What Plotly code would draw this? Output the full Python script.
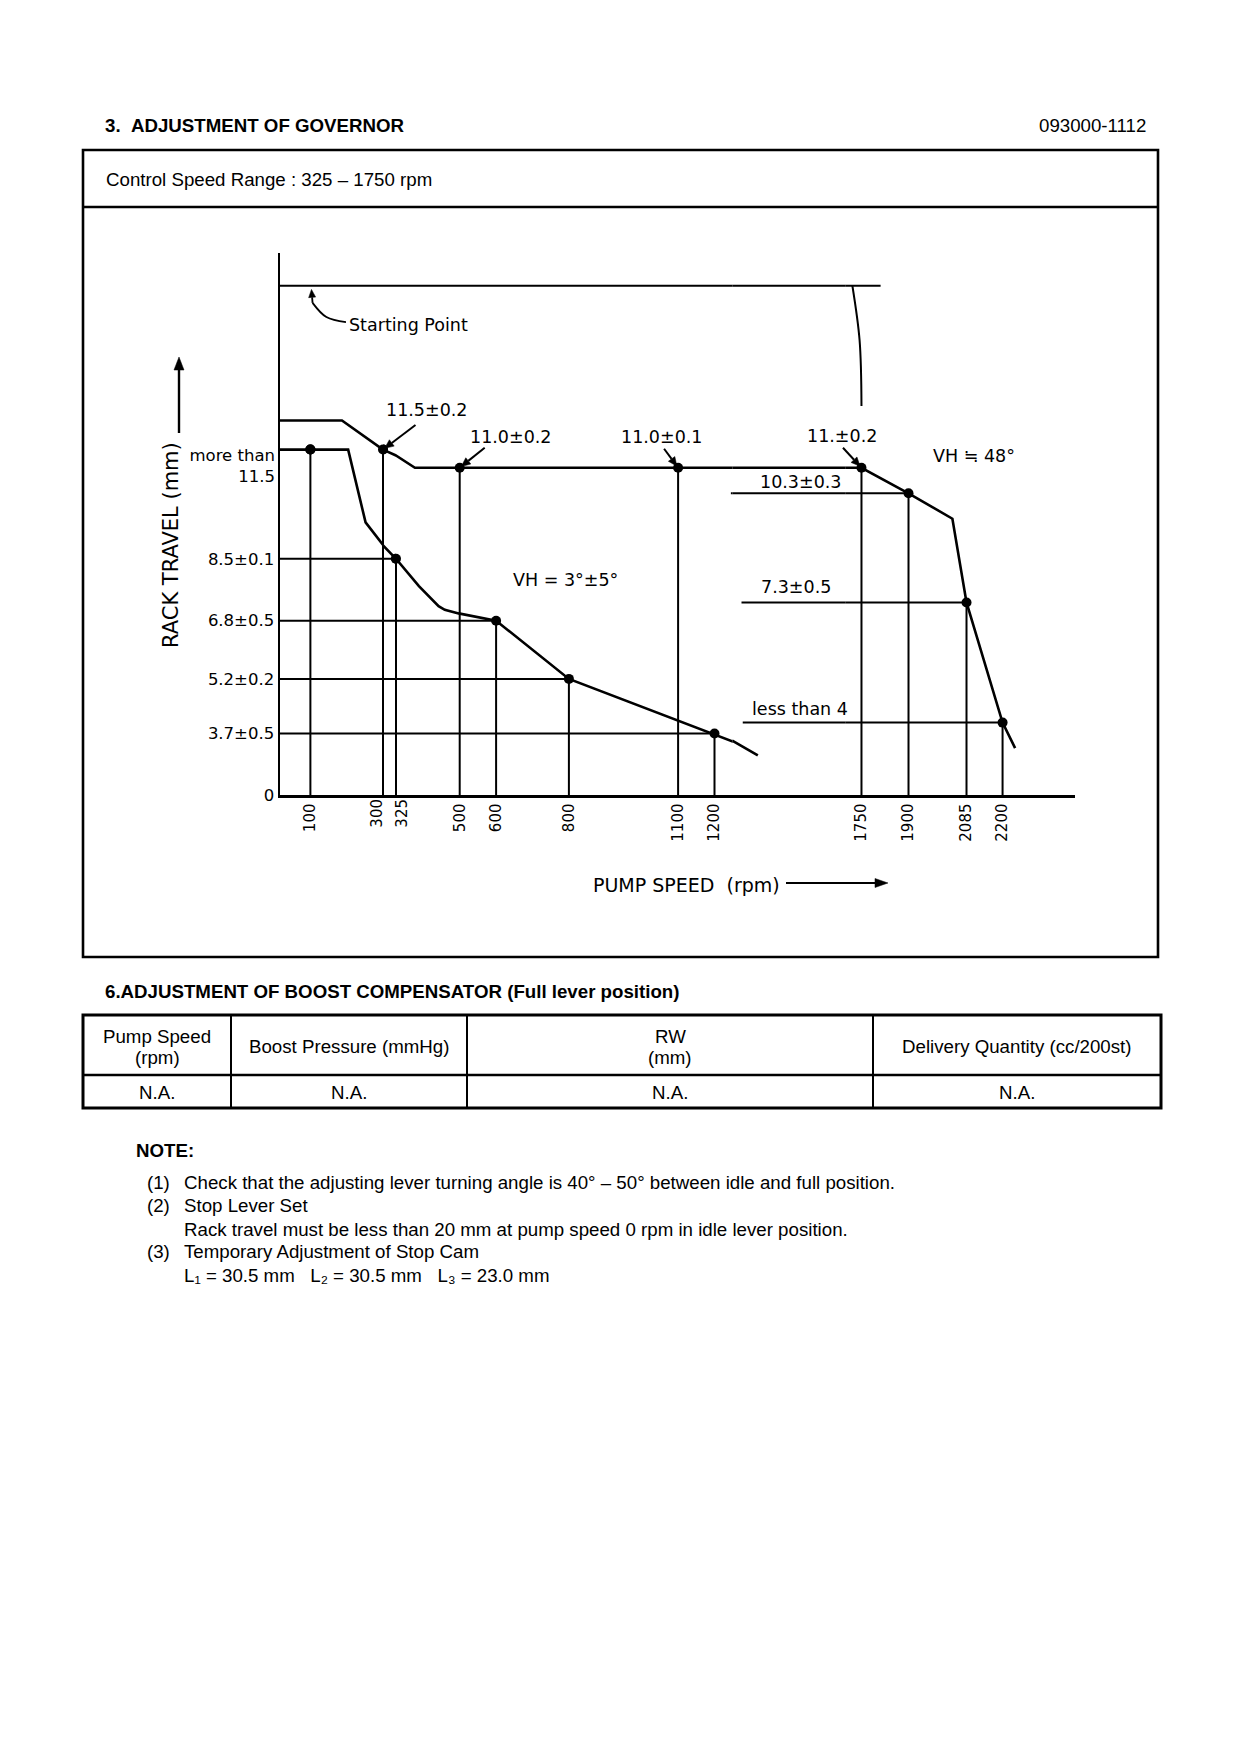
import math
import plotly.graph_objects as go

# ---------------- data ----------------
speed_ticks = [100, 300, 325, 500, 600, 800, 1100, 1200, 1750, 1900, 2085, 2200]

# full-load (upper) curve: pump speed rpm / rack travel mm
full_rpm = [16, 187, 300, 377, 1750, 1900, 2040, 2085, 2200, 2240]
full_mm = [12.3, 12.3, 11.5, 11.0, 11.0, 10.3, 9.6, 7.3, 4.0, 3.3]

# idle (lower) curve
idle_rpm = [16, 204, 252, 296, 325, 388, 442, 459, 497, 600, 800, 1200, 1350]
idle_mm = [11.5, 11.5, 9.5, 8.93, 8.5, 7.75, 7.2, 7.1, 7.0, 6.8, 5.2, 3.7, 3.1]

# starting line and governor cut-off near top
start_rpm = [16, 1811]
start_mm = [16.0, 16.0]
gov_rpm = [1721, 1744, 1750]
gov_mm = [16.0, 14.5, 12.7]

# "Starting Point" leader
leader_rpm = [198, 144, 106]
leader_mm = [15.0, 15.14, 15.53]
leader_tip = (103, 15.9)

# measuring points
point_rpm = [100, 300, 325, 500, 600, 800, 1100, 1200, 1750, 1900, 2085, 2200]
point_mm = [11.5, 11.5, 8.5, 11.0, 6.8, 5.2, 11.0, 3.7, 11.0, 10.3, 7.3, 4.0]

guide_left_rpm = [325, 600, 800, 1200]
guide_right_rpm = [1900, 2085, 2200]
guide_right_from = [1245, 1285, 1290]

ytick_mm = [8.5, 6.8, 5.2, 3.7]
ytick_text = ["8.5±0.1", "6.8±0.5", "5.2±0.2", "3.7±0.5"]
top_tick_mm = 11.5
top_tick_lines = ["more than", "11.5"]

callout_text = ["11.5±0.2", "11.0±0.2", "11.0±0.1", "11.±0.2"]
callout_rpm = [300, 500, 1100, 1750]
callout_mm = [11.5, 11.0, 11.0, 11.0]

right_labels = ["10.3±0.3", "7.3±0.5", "less than 4"]
right_label_rpm = [1900, 2085, 2200]
right_label_mm = [10.3, 7.3, 4.0]

boost_headers = [["Pump Speed", "(rpm)"], ["Boost Pressure (mmHg)"], ["RW", "(mm)"],
                 ["Delivery Quantity (cc/200st)"]]
boost_values = ["N.A.", "N.A.", "N.A.", "N.A."]

note_nums = ["(1)", "(2)", "", "(3)", ""]
note_lines = [
    "Check that the adjusting lever turning angle is 40° – 50° between idle and full position.",
    "Stop Lever Set",
    "Rack travel must be less than 20 mm at pump speed 0 rpm in idle lever position.",
    "Temporary Adjustment of Stop Cam",
    "L₁ = 30.5 mm\u00a0\u00a0\u00a0L₂ = 30.5 mm\u00a0\u00a0\u00a0L₃ = 23.0 mm",
]

# ---------------- geometry helpers ----------------
OFF = 8
W, H = 1240 - 2 * OFF, 1720


def PX(x):
    return (x - OFF) / W


def PY(y):
    return 1 - (y - OFF) / H


PAGE_FONT = "Liberation Sans"
CHART_FONT = "DejaVu Sans"
BLACK = "#000000"

# piecewise (schematic) scales: (axis, rpm0, rpm1, px0, px1)
XSEG = [("x", 16.3, 300, 280, 383), ("x2", 300, 325, 383, 396), ("x3", 325, 1250, 396, 732.7),
        ("x4", 1250, 1700, 732.7, 845.8), ("x5", 1700, 2431, 845.8, 1075)]
YSEG = [("y", 0, 3, 795, 759), ("y2", 3, 16.9, 759, 253)]

# the two close ticks (300 / 325) get their labels spread apart, as in the drawing
SPREAD = [("x6", 300, -6), ("x7", 325, 6)]
# the two-line "more than / 11.5" label, one overlay axis per line
TOPLAB = [("y3", 6), ("y4", 27)]

fig = go.Figure()
shapes = []


def add_all(xs, ys, **kw):
    for xa, *_ in XSEG:
        for ya, *_ in YSEG:
            fig.add_trace(go.Scatter(x=xs, y=ys, xaxis=xa, yaxis=ya, showlegend=False,
                                     hoverinfo="skip", **kw))


def xref_for(r):
    for name, r0, r1, *_ in XSEG:
        if r0 <= r <= r1:
            return name
    return XSEG[-1][0]


def yref_for(m):
    return "y" if m < YSEG[1][1] else "y2"


def seg_px(v, segs):
    for _, v0, v1, p0, p1 in segs:
        if v0 <= v <= v1:
            return p0 + (v - v0) * (p1 - p0) / (v1 - v0)
    _, v0, v1, p0, p1 = segs[-1]
    return p0 + (v - v0) * (p1 - p0) / (v1 - v0)


def data_px(r, m):
    return seg_px(r, XSEG), seg_px(m, YSEG)


def arrow(tip, tail, head_len=9, head_hw=4, width=2, back=0):
    tx, ty = tip
    sx, sy = tail
    d = math.hypot(tx - sx, ty - sy)
    ux, uy = (tx - sx) / d, (ty - sy) / d
    tx, ty = tx - back * ux, ty - back * uy
    bx, by = tx - head_len * ux, ty - head_len * uy
    nx, ny = -uy, ux
    shapes.append(dict(type="line", xref="paper", yref="paper", x0=PX(sx), y0=PY(sy), x1=PX(bx),
                       y1=PY(by), line=dict(color=BLACK, width=width)))
    p = "M {:.5f},{:.5f} L {:.5f},{:.5f} L {:.5f},{:.5f} Z".format(
        PX(tx), PY(ty), PX(bx + nx * head_hw), PY(by + ny * head_hw),
        PX(bx - nx * head_hw), PY(by - ny * head_hw))
    shapes.append(dict(type="path", xref="paper", yref="paper", path=p, fillcolor=BLACK,
                       line=dict(color=BLACK, width=0.5)))


# curves
add_all(full_rpm, full_mm, mode="lines", line=dict(color=BLACK, width=2.6))
add_all(idle_rpm, idle_mm, mode="lines", line=dict(color=BLACK, width=2.6))
add_all(start_rpm, start_mm, mode="lines", line=dict(color=BLACK, width=2.2))
add_all(gov_rpm, gov_mm, mode="lines", line=dict(color=BLACK, width=2.0, shape="spline"))
add_all(leader_rpm, leader_mm, mode="lines", line=dict(color=BLACK, width=1.8, shape="spline"))

# drop lines
dx, dy = [], []
for r, m in zip(point_rpm, point_mm):
    dx += [r, r, None]
    dy += [0, m, None]
add_all(dx, dy, mode="lines", line=dict(color=BLACK, width=2.0))

# horizontal guides
gx, gy = [], []
for r in guide_left_rpm:
    m = point_mm[point_rpm.index(r)]
    gx += [XSEG[0][1], r, None]
    gy += [m, m, None]
for r, f in zip(guide_right_rpm, guide_right_from):
    m = point_mm[point_rpm.index(r)]
    gx += [f, r, None]
    gy += [m, m, None]
add_all(gx, gy, mode="lines", line=dict(color=BLACK, width=2.0))

# markers
add_all(point_rpm, point_mm, mode="markers", marker=dict(color=BLACK, size=10))

# carriers for the overlay tick axes
for name, _ in TOPLAB:
    fig.add_trace(go.Scatter(x=[point_rpm[0]], y=[point_mm[0]], xaxis="x", yaxis=name,
                             mode="markers", marker=dict(color=BLACK, size=10), showlegend=False,
                             hoverinfo="skip"))
for name, r, _ in SPREAD:
    fig.add_trace(go.Scatter(x=[r], y=[point_mm[point_rpm.index(r)]], xaxis=name, yaxis="y2",
                             mode="markers", marker=dict(color=BLACK, size=10), showlegend=False,
                             hoverinfo="skip"))

# ---------------- axes ----------------
layout_axes = {}
tickfont_x = dict(family=CHART_FONT, size=15, color=BLACK)
spread_vals = [r for _, r, _ in SPREAD]
for name, r0, r1, p0, p1 in XSEG:
    key = "xaxis" + name[1:]
    tv = [t for t in speed_ticks if r0 <= t < r1 and t not in spread_vals]
    layout_axes[key] = dict(domain=[PX(p0), PX(p1)], range=[r0, r1], anchor="y", automargin=False,
                            showline=True, linecolor=BLACK, linewidth=2.5, showgrid=False,
                            zeroline=False, ticks="", tickmode="array", tickvals=tv,
                            ticktext=[str(t) for t in tv], tickangle=-90, tickfont=tickfont_x,
                            fixedrange=True)
for name, r, shift in SPREAD:
    layout_axes["xaxis" + name[1:]] = dict(overlaying="x2", anchor="y", side="bottom",
                                           range=[XSEG[1][1], XSEG[1][2]], automargin=False,
                                           showline=False, showgrid=False, zeroline=False,
                                           ticks="", tickmode="array", tickvals=[r],
                                           ticktext=[str(r)], tickangle=-90, tickfont=tickfont_x,
                                           ticklabelshift=shift, fixedrange=True)
tickfont_y = dict(family=CHART_FONT, size=16.5, color=BLACK)
layout_axes["yaxis"] = dict(domain=[PY(795), PY(759)], range=[0, 3], anchor="x", showline=True,
                            automargin=False,
                            linecolor=BLACK, linewidth=2.5, showgrid=False, zeroline=False,
                            ticks="", tickmode="array", tickvals=[0], ticktext=["0"],
                            tickfont=tickfont_y, fixedrange=True)
layout_axes["yaxis2"] = dict(domain=[PY(759), PY(253)], range=[3, 16.9], anchor="x", showline=True,
                             automargin=False,
                             linecolor=BLACK, linewidth=2.5, showgrid=False, zeroline=False,
                             ticks="", tickmode="array", tickvals=ytick_mm, ticktext=ytick_text,
                             tickfont=tickfont_y, fixedrange=True)
for (name, shift), txt in zip(TOPLAB, top_tick_lines):
    layout_axes["yaxis" + name[1:]] = dict(overlaying="y2", anchor="x", side="left",
                                           range=[3, 16.9], automargin=False, showline=False,
                                           showgrid=False, zeroline=False, ticks="",
                                           tickmode="array", tickvals=[top_tick_mm], ticktext=[txt],
                                           tickfont=tickfont_y, ticklabelshift=shift,
                                           ticklabelstandoff=4, fixedrange=True)

ann = []
cfont = dict(family=CHART_FONT, size=17.5, color=BLACK)

# callouts with arrows
c_text_shift = [(43.5, 39.6), (51, 31), (-17, 31), (-19.5, 32)]
c_arrow_tail = [(32.5, -24.6), (25, -20), (-14, -19), (-18.5, -20)]
for t, r, m, (xs, ys), (ax, ay) in zip(callout_text, callout_rpm, callout_mm, c_text_shift, c_arrow_tail):
    xr, yr = xref_for(r), yref_for(m)
    ann.append(dict(x=r, y=m, xref=xr, yref=yr, text=t, showarrow=False, xshift=xs, yshift=ys,
                    font=cfont, xanchor="center", yanchor="middle"))
    tip = data_px(r, m)
    arrow(tip, (tip[0] + ax, tip[1] + ay), head_len=9, head_hw=4, width=2, back=2)

# right-side labels
r_shift = [(-108.5, 11), (-170.5, 15), (-202.5, 14)]
for t, r, m, (xs, ys) in zip(right_labels, right_label_rpm, right_label_mm, r_shift):
    ann.append(dict(x=r, y=m, xref=xref_for(r), yref=yref_for(m), text=t, showarrow=False,
                    xshift=xs, yshift=ys, font=cfont, xanchor="center", yanchor="middle"))

# free chart texts
ann.append(dict(x=790, y=7.92, xref="x3", yref="y2", text="VH = 3°±5°", showarrow=False,
                font=cfont, xanchor="center", yanchor="middle"))
ann.append(dict(x=2109, y=11.32, xref="x5", yref="y2", text="VH ≒ 48°", showarrow=False,
                font=cfont, xanchor="center", yanchor="middle"))
ann.append(dict(x=201, y=14.92, xref="x", yref="y2", text="Starting Point", showarrow=False,
                font=cfont, xanchor="left", yanchor="middle"))
lt = data_px(*leader_tip)
lb = data_px(leader_rpm[-1], leader_mm[-1])
arrow(lt, lb, head_len=8, head_hw=3.5, width=1.8)

# axis titles (schematic, with arrows)
ann.append(dict(x=PX(171), y=PY(545), xref="paper", yref="paper", text="RACK TRAVEL (mm)",
                textangle=-90, showarrow=False, font=dict(family=CHART_FONT, size=21, color=BLACK),
                xanchor="center", yanchor="middle"))
arrow((179, 357), (179, 433), head_len=13, head_hw=5, width=2.4)
ann.append(dict(x=PX(686), y=PY(885), xref="paper", yref="paper", text="PUMP SPEED\u00a0\u00a0(rpm)",
                showarrow=False, font=dict(family=CHART_FONT, size=19, color=BLACK),
                xanchor="center", yanchor="middle"))
arrow((888, 883), (786, 883), head_len=13, head_hw=4.5, width=2)

# ---------------- page texts ----------------
pf = dict(family=PAGE_FONT, size=18.7, color=BLACK)
pfb = dict(family=PAGE_FONT, size=18.7, color=BLACK, weight="bold")


def ptext(x, y, t, font, xanchor="left"):
    ann.append(dict(x=PX(x), y=PY(y), xref="paper", yref="paper", text=t, showarrow=False,
                    font=font, xanchor=xanchor, yanchor="middle"))


ptext(103, 125, "<b>3.\u00a0\u00a0ADJUSTMENT OF GOVERNOR</b>", pfb)
ptext(1148, 125, "093000-1112", pf, "right")
ptext(104, 179, "Control Speed Range : 325 – 1750 rpm", pf)
ptext(103, 992, "<b>6.ADJUSTMENT OF BOOST COMPENSATOR (Full lever position)</b>", pfb)

# table
col_edges = [83, 231, 467, 873, 1161]
for i, (h, v) in enumerate(zip(boost_headers, boost_values)):
    cx = (col_edges[i] + col_edges[i + 1]) / 2
    if len(h) == 1:
        ptext(cx, 1046, h[0], pf, "center")
    else:
        ptext(cx, 1036, h[0], pf, "center")
        ptext(cx, 1057, h[1], pf, "center")
    ptext(cx, 1092, v, pf, "center")

# notes
ptext(134, 1150, "<b>NOTE:</b>", pfb)
note_y = [1182, 1205, 1229, 1251, 1275]
for n, t, y in zip(note_nums, note_lines, note_y):
    if n:
        ptext(145, y, n, pf)
    ptext(182, y, t, pf)

# ---------------- frames ----------------


def line(x0, y0, x1, y1, w):
    shapes.append(dict(type="line", xref="paper", yref="paper", x0=PX(x0), y0=PY(y0), x1=PX(x1),
                       y1=PY(y1), line=dict(color=BLACK, width=w)))


# governor box
shapes.append(dict(type="rect", xref="paper", yref="paper", x0=PX(83), y0=PY(150), x1=PX(1158),
                   y1=PY(957), line=dict(color=BLACK, width=2.6)))
line(83, 207, 1158, 207, 2.6)
# table
shapes.append(dict(type="rect", xref="paper", yref="paper", x0=PX(83), y0=PY(1015), x1=PX(1161),
                   y1=PY(1108), line=dict(color=BLACK, width=3)))
line(83, 1075, 1161, 1075, 2.6)
for cx in col_edges[1:-1]:
    line(cx, 1015, cx, 1108, 2)

fig.update_layout(
    width=W, height=H, autosize=False,
    margin=dict(l=0, r=0, t=0, b=0, pad=0, autoexpand=False),
    paper_bgcolor="white", plot_bgcolor="rgba(0,0,0,0)",
    showlegend=False, annotations=ann, shapes=shapes,
    font=dict(family=CHART_FONT, color=BLACK),
    **layout_axes,
)

fig.write_html("out.html", config={"displayModeBar": False, "staticPlot": True})
